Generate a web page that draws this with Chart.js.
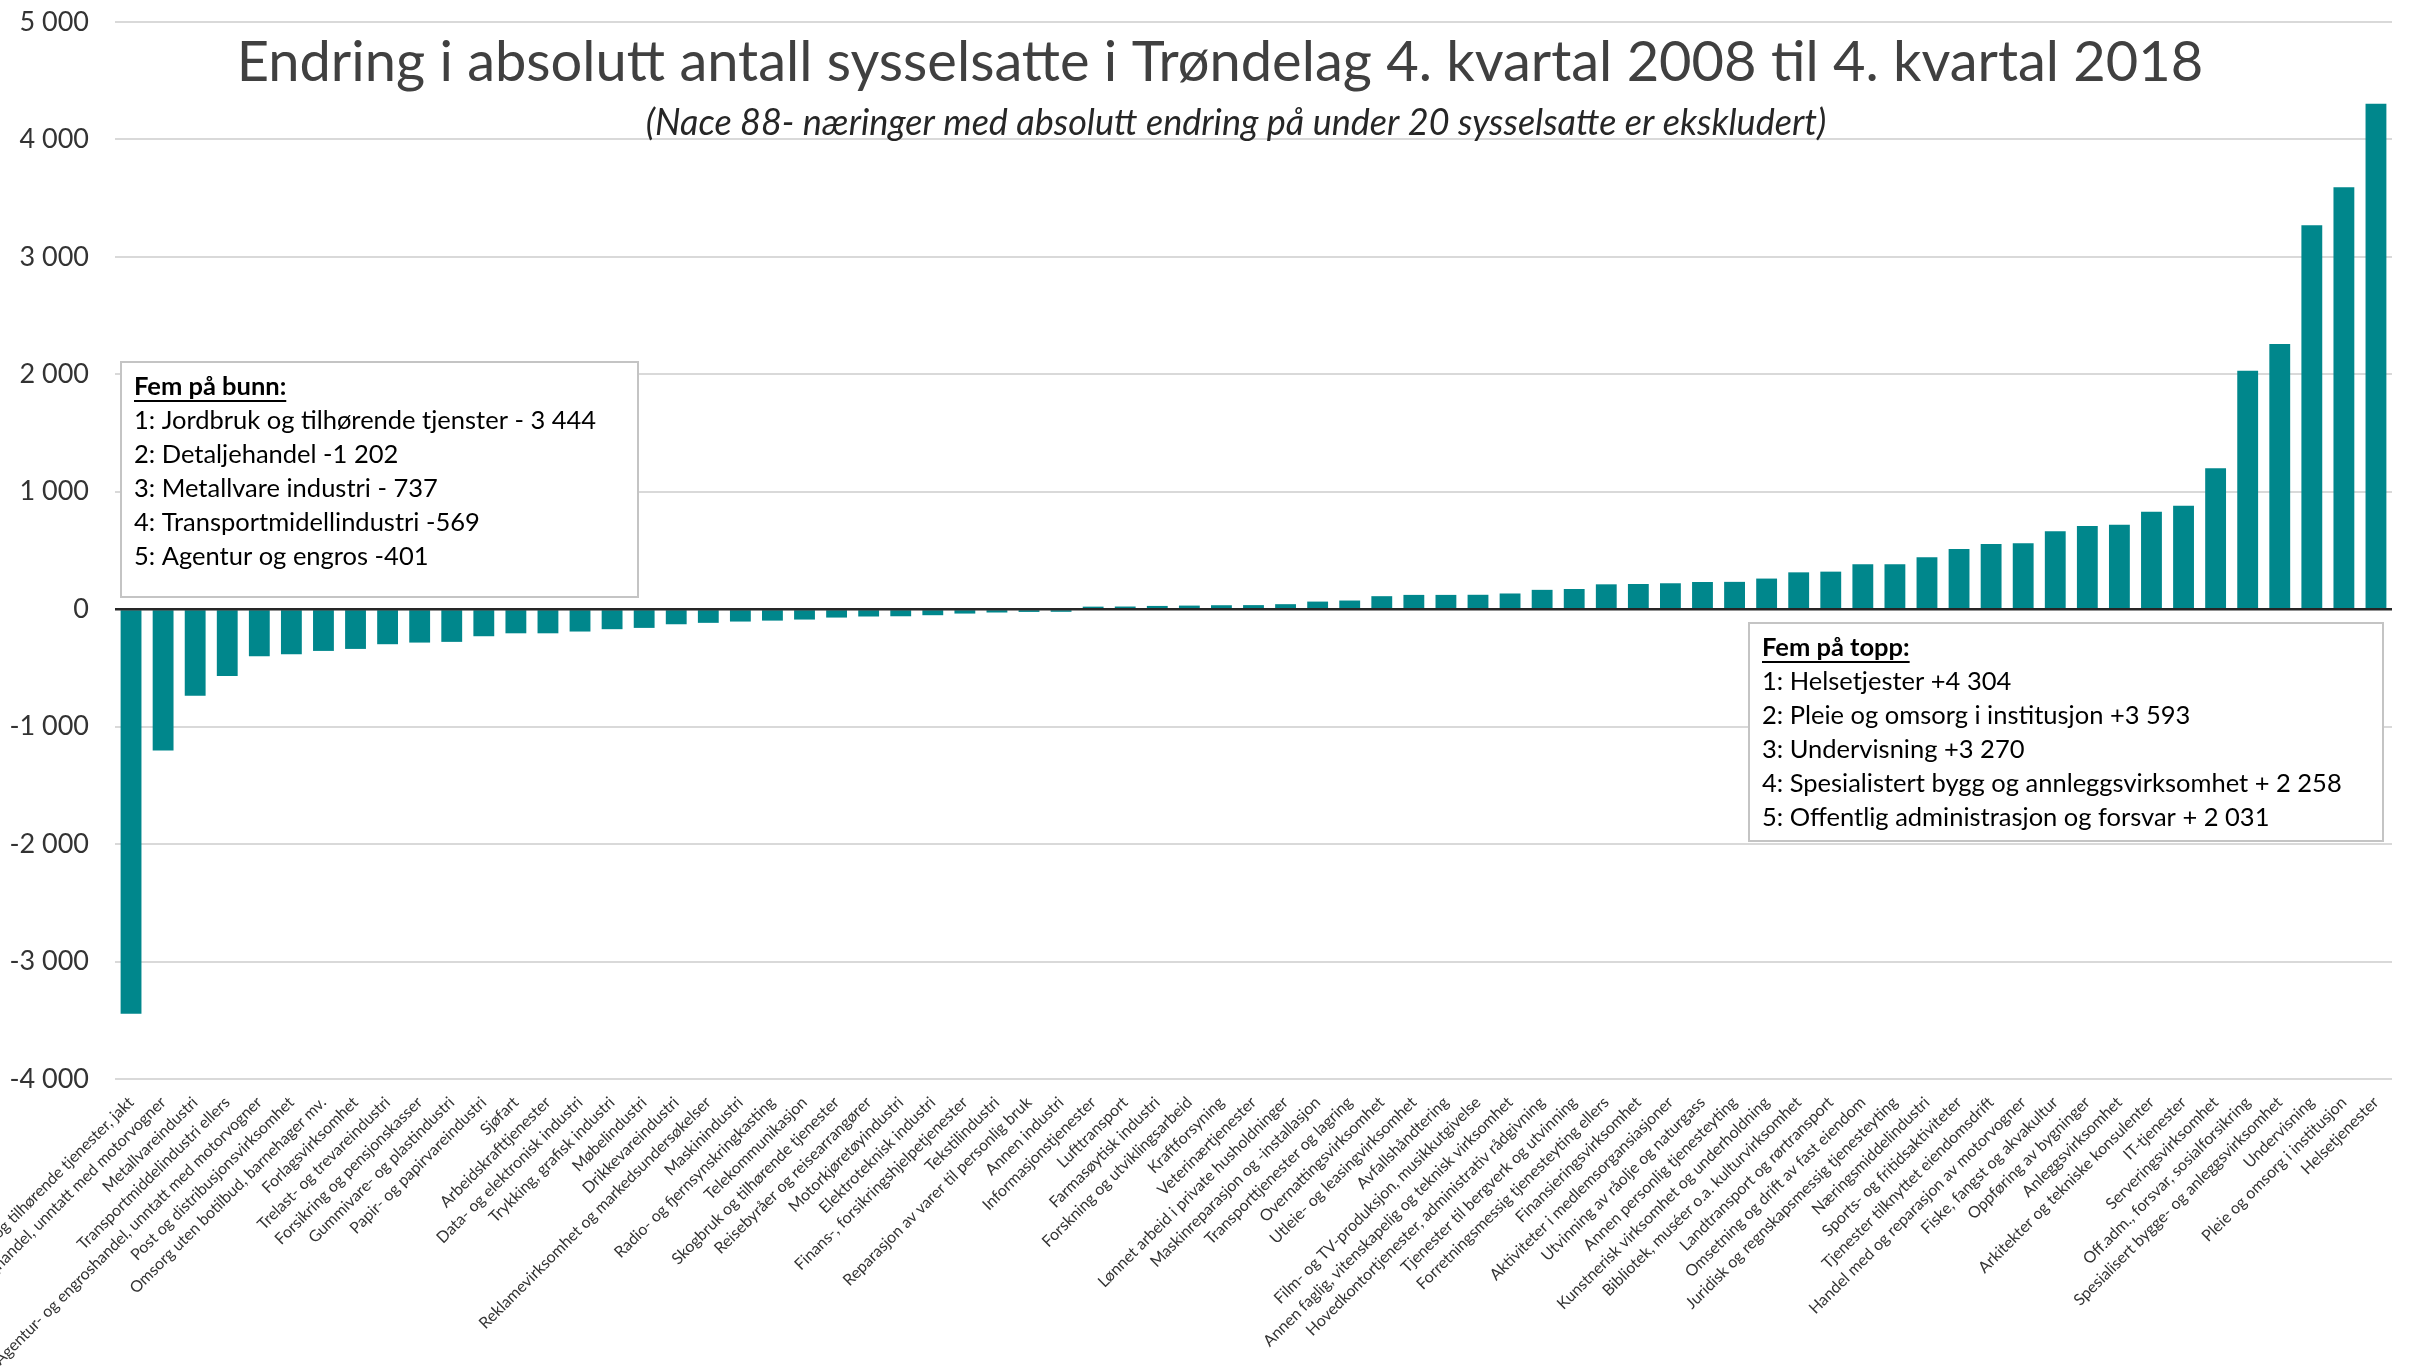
<!DOCTYPE html>
<html lang="no">
<head>
<meta charset="utf-8">
<title>Endring i absolutt antall sysselsatte i Trøndelag</title>
<script src="https://cdn.jsdelivr.net/npm/chart.js@4.4.1/dist/chart.umd.min.js"></script>
<style>
  html, body { margin: 0; padding: 0; background: #fff; }
  #wrap { position: relative; width: 2412px; height: 1367px; }
</style>
</head>
<body>
<div id="wrap"><canvas id="chart" width="2412" height="1367"></canvas></div>
<script>
// Næringer (Nace 88), sortert etter endring
const naeringer = [
  'Jordbruk og tilhørende tjenester, jakt',
  'Detaljhandel, unntatt med motorvogner',
  'Metallvareindustri',
  'Transportmiddelindustri ellers',
  'Agentur- og engroshandel, unntatt med motorvogner',
  'Post og distribusjonsvirksomhet',
  'Omsorg uten botilbud, barnehager mv.',
  'Forlagsvirksomhet',
  'Trelast- og trevareindustri',
  'Forsikring og pensjonskasser',
  'Gummivare- og plastindustri',
  'Papir- og papirvareindustri',
  'Sjøfart',
  'Arbeidskrafttjenester',
  'Data- og elektronisk industri',
  'Trykking, grafisk industri',
  'Møbelindustri',
  'Drikkevareindustri',
  'Reklamevirksomhet og markedsundersøkelser',
  'Maskinindustri',
  'Radio- og fjernsynskringkasting',
  'Telekommunikasjon',
  'Skogbruk og tilhørende tjenester',
  'Reisebyråer og reisearrangører',
  'Motorkjøretøyindustri',
  'Elektroteknisk industri',
  'Finans-, forsikringshjelpetjenester',
  'Tekstilindustri',
  'Reparasjon av varer til personlig bruk',
  'Annen industri',
  'Informasjonstjenester',
  'Lufttransport',
  'Farmasøytisk industri',
  'Forskning og utviklingsarbeid',
  'Kraftforsyning',
  'Veterinærtjenester',
  'Lønnet arbeid i private husholdninger',
  'Maskinreparasjon og -installasjon',
  'Transporttjenester og lagring',
  'Overnattingsvirksomhet',
  'Utleie- og leasingvirksomhet',
  'Avfallshåndtering',
  'Film- og TV-produksjon, musikkutgivelse',
  'Annen faglig, vitenskapelig og teknisk virksomhet',
  'Hovedkontortjenester, administrativ rådgivning',
  'Tjenester til bergverk og utvinning',
  'Forretningsmessig tjenesteyting ellers',
  'Finansieringsvirksomhet',
  'Aktiviteter i medlemsorgansiasjoner',
  'Utvinning av råolje og naturgass',
  'Annen personlig tjenesteyting',
  'Kunstnerisk virksomhet og underholdning',
  'Bibliotek, muséer o.a. kulturvirksomhet',
  'Landtransport og rørtransport',
  'Omsetning og drift av fast eiendom',
  'Juridisk og regnskapsmessig tjenesteyting',
  'Næringsmiddelindustri',
  'Sports- og fritidsaktiviteter',
  'Tjenester tilknyttet eiendomsdrift',
  'Handel med og reparasjon av motorvogner',
  'Fiske, fangst og akvakultur',
  'Oppføring av bygninger',
  'Anleggsvirksomhet',
  'Arkitekter og tekniske konsulenter',
  'IT-tjenester',
  'Serveringsvirksomhet',
  'Off.adm., forsvar, sosialforsikring',
  'Spesialisert bygge- og anleggsvirksomhet',
  'Undervisning',
  'Pleie og omsorg i institusjon',
  'Helsetjenester'
];

// Endring i antall sysselsatte, 4. kv. 2008 - 4. kv. 2018
const endring = [
  -3444, -1202, -737, -569, -401, -384, -355, -338, -298, -284,
  -278, -230, -205, -205, -190, -170, -159, -128, -116, -105,
  -97, -88, -71, -62, -60, -51, -37, -28, -23, -22,
  22, 23, 28, 31, 34, 35, 43, 65, 74, 111,
  122, 122, 123, 134, 165, 172, 212, 215, 221, 232,
  233, 261, 314, 320, 382, 383, 442, 513, 555, 561,
  663, 708, 720, 830, 880, 1200, 2031, 2258, 3270, 3593,
  4304
];

const yTicks = [-4000, -3000, -2000, -1000, 0, 1000, 2000, 3000, 4000, 5000];

const tittel = 'Endring i absolutt antall sysselsatte i Trøndelag 4. kvartal 2008 til 4. kvartal 2018';
const undertittel = '(Nace 88- næringer med absolutt endring på under 20 sysselsatte er ekskludert)';

const bunnOverskrift = 'Fem på bunn:';
const bunnLinjer = [
  '1: Jordbruk og tilhørende tjenster - 3 444',
  '2: Detaljehandel -1 202',
  '3: Metallvare industri - 737',
  '4: Transportmidellindustri -569',
  '5: Agentur og engros -401'
];

const toppOverskrift = 'Fem på topp:';
const toppLinjer = [
  '1: Helsetjester +4 304',
  '2: Pleie og omsorg i institusjon +3 593',
  '3: Undervisning +3 270',
  '4: Spesialistert bygg og annleggsvirksomhet + 2 258',
  '5: Offentlig administrasjon og forsvar + 2 031'
];

const FONT = 'Lato, "Open Sans", sans-serif';
const TEAL = '#00878c';

function tusen(v) {
  const s = String(Math.abs(v)).replace(/\B(?=(\d{3})+(?!\d))/g, ' ');
  return (v < 0 ? '-' : '') + s;
}

// tekstboks med overskrift (fet, understreket) og nummererte linjer
function tegnBoks(ctx, box, heading, lines) {
  ctx.save();
  ctx.fillStyle = '#fff';
  ctx.fillRect(box.x, box.y, box.w, box.h);
  ctx.strokeStyle = '#c4c4c4';
  ctx.lineWidth = 2;
  ctx.strokeRect(box.x, box.y, box.w, box.h);

  ctx.textBaseline = 'middle';
  ctx.textAlign = 'left';
  ctx.fillStyle = '#000';
  ctx.font = 'bold 25.5px ' + FONT;
  const tx = box.x + 13;
  let ty = box.y + 25;
  ctx.fillText(heading, tx, ty);
  const hw = ctx.measureText(heading).width;
  ctx.fillRect(tx, ty + 13, hw, 2);

  ctx.font = '25.5px ' + FONT;
  lines.forEach(l => {
    ty += 34;
    ctx.fillText(l, tx, ty);
  });
  ctx.restore();
}

const overlay = {
  id: 'overlay',
  beforeDatasetsDraw(chart) {
    const ctx = chart.ctx;
    ctx.save();
    ctx.textAlign = 'center';
    ctx.textBaseline = 'middle';
    ctx.fillStyle = '#404040';
    ctx.font = '56px ' + FONT;
    ctx.fillText(tittel, 1220, 63);
    ctx.fillStyle = '#262626';
    ctx.font = 'italic 36px ' + FONT;
    ctx.fillText(undertittel, 1236, 123);
    ctx.restore();
  },
  afterDatasetsDraw(chart) {
    const ctx = chart.ctx;
    const a = chart.chartArea;
    const y0 = chart.scales.y.getPixelForValue(0);
    ctx.save();
    ctx.strokeStyle = '#262626';
    ctx.lineWidth = 2.5;
    ctx.beginPath();
    ctx.moveTo(a.left, y0);
    ctx.lineTo(a.right, y0);
    ctx.stroke();
    ctx.restore();

    tegnBoks(ctx, { x: 121, y: 362, w: 517, h: 235 }, bunnOverskrift, bunnLinjer);
    tegnBoks(ctx, { x: 1749, y: 623, w: 634, h: 218 }, toppOverskrift, toppLinjer);
  }
};

Chart.defaults.font.family = FONT;

new Chart(document.getElementById('chart'), {
  type: 'bar',
  data: {
    labels: naeringer,
    datasets: [{
      data: endring,
      backgroundColor: TEAL,
      borderWidth: 0,
      barPercentage: 0.65,
      categoryPercentage: 1
    }]
  },
  options: {
    responsive: false,
    animation: false,
    devicePixelRatio: 1,
    layout: { padding: { top: 22, right: 20, bottom: 0, left: 0 } },
    plugins: {
      legend: { display: false },
      tooltip: { enabled: false },
      title: { display: false }
    },
    scales: {
      x: {
        grid: { display: false },
        border: { display: false },
        ticks: {
          autoSkip: false,
          minRotation: 45,
          maxRotation: 45,
          padding: 6,
          color: '#333',
          font: { size: 16 }
        },
        afterFit(s) { s.height = 288; s.paddingLeft = 0; s.paddingRight = 0; }
      },
      y: {
        min: -4000,
        max: 5000,
        afterBuildTicks(s) { s.ticks = yTicks.map(v => ({ value: v })); },
        ticks: {
          padding: 26,
          color: '#333',
          font: { size: 27 },
          callback: v => tusen(v)
        },
        grid: { color: '#d9d9d9', lineWidth: 2, drawTicks: false },
        border: { display: false },
        afterFit(s) { s.width = 115; s.paddingTop = 0; s.paddingBottom = 0; }
      }
    }
  },
  plugins: [overlay]
});
</script>
</body>
</html>
